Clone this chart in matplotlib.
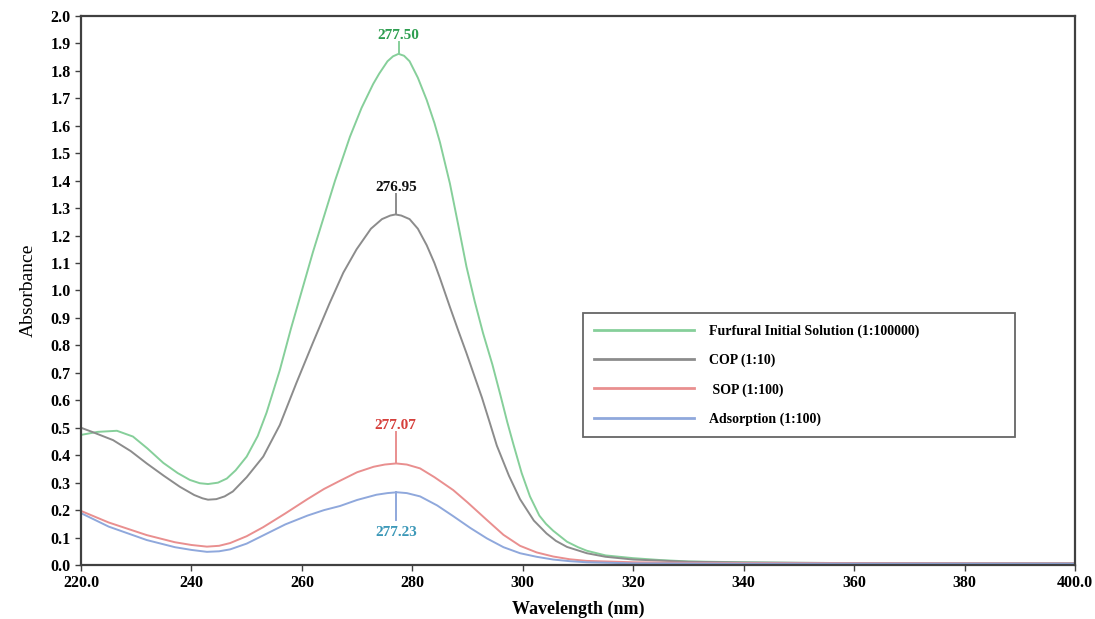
import matplotlib
matplotlib.use("Agg")
import matplotlib.pyplot as plt

# absorbance spectra
wl_furfural = [220, 223, 226.5, 229.4, 232, 234.9, 237.5, 239.7, 241.5, 243, 244.8, 246.4, 248, 250, 252,
               253.6, 256, 258, 260, 262, 263.8, 266, 268.7, 270.8, 272.9, 274, 275.5, 276.5, 277.5, 278.5,
               279.5, 281, 282.6, 284, 285, 286.8, 288.3, 289.8, 291.3, 292.8, 294.5, 296, 297.2, 298.3,
               299.8, 301.3, 303, 304.2, 305.5, 308, 310, 311.6, 315, 320, 325, 330, 340, 350, 360, 380, 400]
abs_furfural = [0.474, 0.485, 0.489, 0.468, 0.425, 0.372, 0.335, 0.31, 0.298, 0.295, 0.3, 0.315, 0.345, 0.395,
                0.47, 0.555, 0.71, 0.86, 1.0, 1.14, 1.257, 1.40, 1.56, 1.665, 1.752, 1.79, 1.835, 1.853, 1.862,
                1.855, 1.835, 1.775, 1.694, 1.61, 1.54, 1.39, 1.24, 1.087, 0.96, 0.845, 0.73, 0.615, 0.52, 0.44,
                0.335, 0.25, 0.18, 0.15, 0.125, 0.085, 0.065, 0.052, 0.035, 0.025, 0.018, 0.013, 0.01, 0.008,
                0.007, 0.006, 0.006]

wl_cop = [220, 222, 225.8, 229, 231.9, 235, 237.9, 240.5, 242, 243, 244.5, 246, 247.5, 250, 253, 256, 259,
          262, 265, 267.5, 269.9, 272.5, 274.5, 276, 276.95, 278, 279.5, 281, 282.6, 284, 285, 286.8, 288.3,
          289.8, 291.3, 292.6, 294, 295.3, 297.5, 299.5, 302, 304.3, 306, 308, 311.6, 315, 320, 330, 340,
          360, 380, 400]
abs_cop = [0.50, 0.485, 0.455, 0.415, 0.37, 0.325, 0.285, 0.255, 0.243, 0.238, 0.24, 0.25, 0.268, 0.32,
           0.395, 0.51, 0.663, 0.81, 0.953, 1.065, 1.15, 1.225, 1.26, 1.273, 1.277, 1.273, 1.26, 1.225, 1.165,
           1.10, 1.045, 0.94, 0.855, 0.772, 0.685, 0.61, 0.52, 0.435, 0.325, 0.24, 0.162, 0.115, 0.088,
           0.066, 0.043, 0.03, 0.02, 0.012, 0.009, 0.007, 0.006, 0.006]

wl_sop = [220, 225, 231.9, 237, 240, 242.8, 245, 247, 250, 253, 257, 261, 264, 266.9, 270, 273, 275,
          277.07, 279, 281.4, 284, 287.4, 290, 293.5, 296.5, 299.5, 302.5, 305.5, 308.5, 311.6, 320, 330,
          350, 400]
abs_sop = [0.197, 0.155, 0.109, 0.083, 0.073, 0.067, 0.07, 0.08, 0.105, 0.138, 0.188, 0.24, 0.277, 0.307,
           0.338, 0.358, 0.366, 0.37, 0.366, 0.352, 0.32, 0.273, 0.228, 0.164, 0.11, 0.07, 0.046, 0.031,
           0.021, 0.015, 0.01, 0.008, 0.007, 0.006]

wl_ads = [220, 225, 231.9, 237, 240, 242.8, 245, 247, 250, 253, 257, 261, 264, 266.9, 270, 273.5, 275.5,
          277.23, 279, 281.4, 284.5, 287.4, 290.5, 293.5, 296.5, 299.5, 302.5, 305.5, 308.5, 311.6, 320,
          340, 400]
abs_ads = [0.189, 0.14, 0.091, 0.065, 0.055, 0.048, 0.05, 0.057, 0.078, 0.108, 0.148, 0.18, 0.2, 0.215,
           0.237, 0.256, 0.262, 0.265, 0.262, 0.25, 0.217, 0.178, 0.135, 0.097, 0.065, 0.043, 0.03, 0.02,
           0.014, 0.01, 0.006, 0.005, 0.005]

names = ["Furfural Initial Solution (1:100000)", "COP (1:10)", " SOP (1:100)", "Adsorption (1:100)"]
peak_labels = ["277.50", "276.95", "277.07", "277.23"]

line_cols = ["#86cf9a", "#8c8c8c", "#e98f8f", "#8fa8dc"]
text_cols = ["#2e9e50", "#111111", "#d6403c", "#3c98b8"]

serif = "Liberation Serif"
fig = plt.figure(figsize=(10.95, 6.19), dpi=100)
ax = fig.add_axes([0.074, 0.0872, 0.9077, 0.887])

series = [(wl_furfural, abs_furfural), (wl_cop, abs_cop), (wl_sop, abs_sop), (wl_ads, abs_ads)]
for (x, y), c, n in zip(series, line_cols, names):
    ax.plot(x, y, color=c, lw=1.4, label=n, solid_joinstyle="round")

# peak markers: stem from peak to label
stems = [(277.5, 1.862, 1.905, 1.93),
         (277.0, 1.277, 1.35, 1.375),
         (277.0, 0.37, 0.485, 0.51),
         (277.0, 0.265, 0.164, 0.12)]
for (xp, y0, y1, yt), lab, lc, tc in zip(stems, peak_labels, line_cols, text_cols):
    ax.plot([xp, xp], [y0, y1], color=lc, lw=1.4)
    ax.text(xp, yt, lab, color=tc, ha="center", va="center", fontsize=11,
            fontweight="bold", family=serif)

ax.set_xlim(220, 400)
ax.set_ylim(0, 2.0)
xt = [220, 240, 260, 280, 300, 320, 340, 360, 380, 400]
ax.set_xticks(xt)
ax.set_xticklabels(["220.0"] + [str(v) for v in xt[1:-1]] + ["400.0"])
yt_vals = [i / 10 for i in range(21)]
ax.set_yticks(yt_vals)
ax.set_yticklabels([f"{v:.1f}" for v in yt_vals])
for lab in ax.get_xticklabels() + ax.get_yticklabels():
    lab.set_family(serif)
    lab.set_fontweight("bold")
    lab.set_fontsize(11.5)
ax.tick_params(direction="out", length=4, width=1, color="#404040")

for s in ax.spines.values():
    s.set_linewidth(1.6)
    s.set_color("#404040")

ax.set_xlabel("Wavelength (nm)", family=serif, fontweight="bold", fontsize=13, labelpad=7)
ax.set_ylabel("Absorbance", family=serif, fontsize=14, labelpad=10)

leg = ax.legend(loc="upper left", bbox_to_anchor=(0.505, 0.222, 0.435, 0.237), mode="expand",
                prop={"family": serif, "weight": "bold", "size": 10}, fancybox=False,
                handlelength=7.2, handletextpad=1.1, labelspacing=1.15, borderpad=0.8,
                borderaxespad=0)
leg.get_frame().set_edgecolor("#404040")
leg.get_frame().set_linewidth(1.3)
for h in leg.get_lines():
    h.set_linewidth(2)

fig.savefig("out.png", dpi=100)
